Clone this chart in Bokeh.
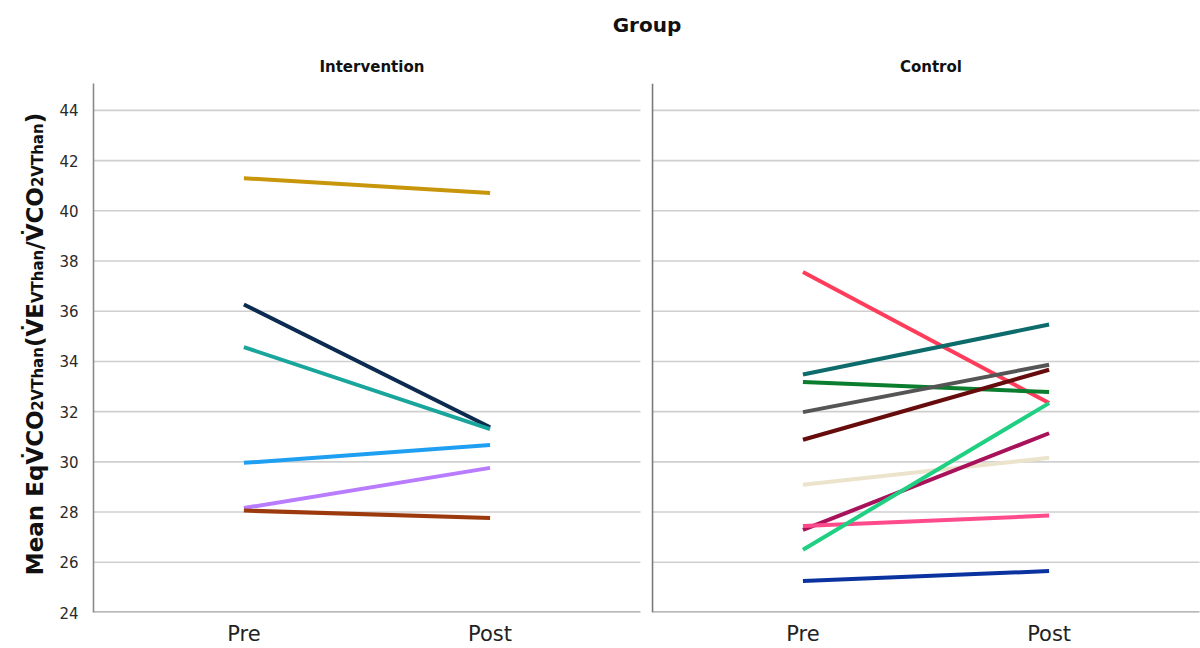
import math
from bokeh.plotting import figure
from bokeh.layouts import row
from bokeh.models import Label, FixedTicker, Range1d, ColumnDataSource, LinearAxis
from bokeh.embed import file_html
from bokeh.resources import INLINE

# ---------------- data ----------------
group_title = "Group"
panels = ["Intervention", "Control"]
time_labels = ["Pre", "Post"]
y_ticks = [24, 26, 28, 30, 32, 34, 36, 38, 40, 42, 44]

intervention_pre = [41.30, 36.27, 34.57, 29.96, 28.16, 28.06]
intervention_post = [40.71, 31.38, 31.30, 30.67, 29.76, 27.76]
intervention_colors = ["#c8960a", "#0c2b50", "#1aa59c", "#1e9ff2", "#b87cff", "#9c3a0e"]

control_pre = [37.56, 33.48, 33.18, 31.98, 30.88, 29.09, 27.29, 27.45, 26.50, 25.25]
control_post = [32.34, 35.47, 32.78, 33.87, 33.67, 30.16, 31.14, 27.86, 32.34, 25.65]
control_colors = ["#ff3d5a", "#0e6b6b", "#0a7d2e", "#555555", "#660c0c",
                  "#ebe3cc", "#a8125a", "#ff4b8c", "#1fcf82", "#0a33a0"]

# ---------------- layout ----------------
PAD = 0.611                      # room left/right of Pre/Post inside a panel
SPAN = 1 + 2 * PAD               # width of one panel (data units)
GAP = 0.049                      # gap between panels
OFFSET = SPAN + GAP              # x shift of the second panel
TITLE_SHIFT = 0.02
X_START, X_END = -PAD, 3.886
Y_START, Y_END = 24, 45.07

W, H = 1200, 648
LABEL_W = 54
BL, BT, BB = 93 - LABEL_W, 83, 36
PX_PER_UNIT = (H - BT - BB) / (Y_END - Y_START)

y_range = Range1d(Y_START, Y_END)

# ---------------- y-axis title figure ----------------
lab = figure(width=LABEL_W, height=H, output_backend="svg", toolbar_location=None,
             x_range=Range1d(0, LABEL_W), y_range=y_range,
             x_axis_location=None, y_axis_location=None,
             min_border_left=0, min_border_right=0, min_border_top=BT, min_border_bottom=BB)
lab.grid.visible = False
lab.outline_line_color = None

EM = {"M": 0.974, "e": 0.678, "a": 0.675, "n": 0.712, " ": 0.348, "E": 0.683,
      "q": 0.716, "V": 0.774, "C": 0.734, "O": 0.850, "(": 0.457, ")": 0.457,
      "/": 0.365, "2": 0.696, "T": 0.682, "h": 0.712, "\u0307": 0.0}
DOTV = "V\u0307"
pieces = [("Mean Eq" + DOTV + "CO", False), ("2VThan", True), ("(" + DOTV + "E", False),
          ("VThan", True), ("/" + DOTV + "CO", False), ("2VThan", True), (")", False)]
MAIN, SUB = 23, 15
BASE_X = 34
total_px = sum(sum(EM[c] for c in t) * (SUB if s else MAIN) for t, s in pieces)
center_page_y = 343.5
start_px = center_page_y + total_px / 2          # page y of the text start (bottom)
yd = Y_START + (H - BB - start_px) / PX_PER_UNIT
for t, s in pieces:
    size = SUB if s else MAIN
    lab.add_layout(Label(x=BASE_X + (3 if s else 0), y=yd, x_units="screen", y_units="data",
                         text=t, text_font="DejaVu Sans", text_font_style="bold",
                         text_font_size=f"{size}px", text_color="#111111",
                         text_align="left", text_baseline="alphabetic", angle=math.pi / 2))
    yd += sum(EM[c] for c in t) * size / PX_PER_UNIT

# ---------------- main figure ----------------
p = figure(width=W - LABEL_W, height=H, output_backend="svg", toolbar_location=None,
           x_range=Range1d(X_START, X_END), y_range=y_range,
           min_border_left=BL, min_border_right=0, min_border_top=BT,
           min_border_bottom=BB)
p.outline_line_color = None
p.xgrid.visible = False
p.ygrid.visible = False

panel_offsets = [0.0, OFFSET]
pos = [0.0, 1.0]

# gridlines per panel
gx0, gx1, gy = [], [], []
for off in panel_offsets:
    for t in y_ticks[1:]:
        gx0.append(off - PAD)
        gx1.append(off + 1 + PAD)
        gy.append(t)
p.segment(x0=gx0, y0=gy, x1=gx1, y1=gy, line_color="#cfcfcf", line_width=1.6)

# bottom lines per panel
bx0 = [off - PAD for off in panel_offsets]
bx1 = [off + 1 + PAD for off in panel_offsets]
p.segment(x0=bx0, y0=[Y_START] * 2, x1=bx1, y1=[Y_START] * 2,
          line_color="#a0a0a0", line_width=2.5)
# divider = y axis line of the second panel
p.segment(x0=[OFFSET - PAD], y0=[Y_START], x1=[OFFSET - PAD], y1=[Y_END],
          line_color="#7a7a7a", line_width=1.6)

# data lines
for off, pre, post, cols in [(0.0, intervention_pre, intervention_post, intervention_colors),
                             (OFFSET, control_pre, control_post, control_colors)]:
    src = ColumnDataSource(dict(x0=[off + pos[0]] * len(pre), x1=[off + pos[1]] * len(pre),
                                y0=pre, y1=post, c=cols))
    p.segment(x0="x0", y0="y0", x1="x1", y1="y1", line_color="c", line_width=4,
              source=src)

# bottom axis: Pre / Post in each panel
x_ticks = [off + q for off in panel_offsets for q in pos]
p.xaxis.ticker = FixedTicker(ticks=x_ticks)
p.xaxis.major_label_overrides = {x_ticks[i]: time_labels[i % 2] for i in range(len(x_ticks))}
p.xaxis.axis_line_color = None
p.xaxis.major_tick_line_color = None
p.xaxis.minor_tick_line_color = None
p.xaxis.major_label_text_font = "DejaVu Sans"
p.xaxis.major_label_text_font_size = "21px"
p.xaxis.major_label_text_color = "#222222"
p.xaxis.major_label_standoff = 3

# left axis
p.yaxis.ticker = FixedTicker(ticks=y_ticks)
p.yaxis.axis_line_color = "#8a8a8a"
p.yaxis.axis_line_width = 1.6
p.yaxis.major_tick_line_color = None
p.yaxis.minor_tick_line_color = None
p.yaxis.major_label_text_font = "DejaVu Sans"
p.yaxis.major_label_text_font_size = "15px"
p.yaxis.major_label_text_color = "#2a2a2a"
p.yaxis.major_label_standoff = 9

# top axis: panel titles, with the grouping title as its axis label
t_ticks = [off + 0.5 + TITLE_SHIFT for off in panel_offsets]
top = LinearAxis(ticker=FixedTicker(ticks=t_ticks),
                 major_label_overrides={t_ticks[i]: panels[i] for i in range(len(panels))},
                 axis_label=group_title)
top.axis_line_color = None
top.major_tick_line_color = None
top.minor_tick_line_color = None
top.major_label_standoff = 2
top.major_label_text_font = "DejaVu Sans"
top.major_label_text_font_style = "bold"
top.major_label_text_font_size = "15px"
top.major_label_text_color = "#111111"
top.axis_label_text_font = "DejaVu Sans"
top.axis_label_text_font_style = "bold"
top.axis_label_text_font_size = "20px"
top.axis_label_text_color = "#111111"
top.axis_label_standoff = 18
p.add_layout(top, "above")

layout = row(lab, p)
open("out.html", "w").write(file_html(layout, INLINE))
